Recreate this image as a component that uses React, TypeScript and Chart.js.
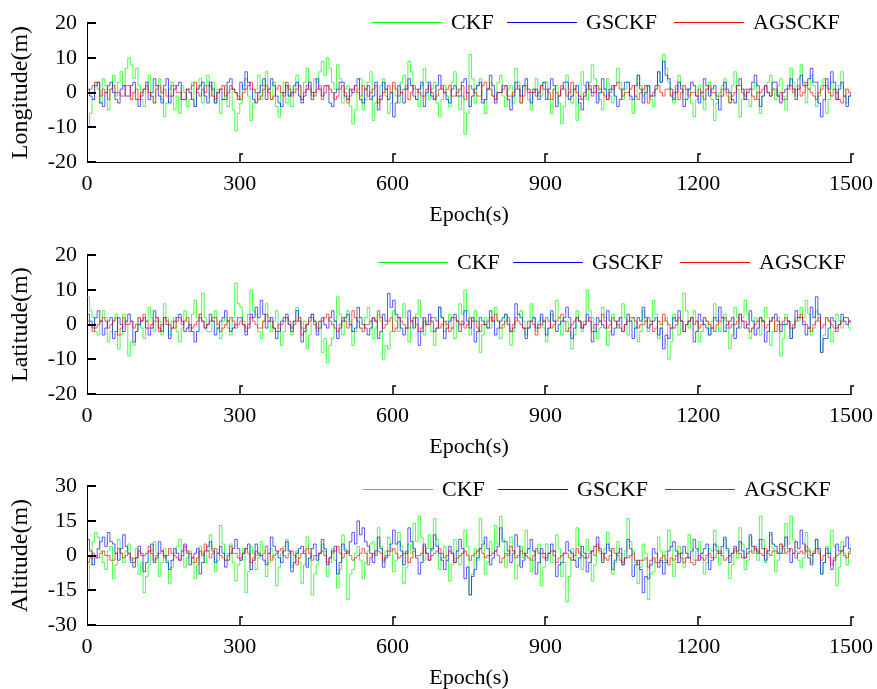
import React, { useEffect, useRef } from "react";
import { Chart, registerables } from "chart.js";
Chart.register(...registerables);

// Epoch spacing of the tabulated samples (s)
const EPOCH_STEP = 5;
const X_TICKS = [0, 300, 600, 900, 1200, 1500];
const SERIES_NAMES = ["CKF", "GSCKF", "AGSCKF"];
const SERIES_COLORS = ["rgba(0,255,0,0.7)", "rgba(0,0,255,0.65)", "rgba(255,0,0,0.65)"];
const LEGEND_COLORS = ["#00ff00", "#0000ff", "#ff0000"];

// ---------- Longitude (m) ----------
const lonCKF = [
  -10, -6, -2, 3, 1, -3, 4, 2, -5, 1, 5, -1, 3, 6, 2, 7, 10, 8, 4, 7,
  2, -2, -4, 1, 5, -1, -3, 2, 4, -2, -7, -3, 1, 3, -5, -1, -6, 2, 0, -4,
  -2, 3, -4, 1, 4, -3, 2, 5, -1, 3, -3, 1, -6, -2, 2, -4, 1, -5, -11, -6,
  -3, 2, 4, -1, -8, -3, 1, 5, -2, 2, 6, 1, -2, 3, -4, -7, 0, 3, -3, 2,
  -4, 1, 5, 2, -2, 3, 7, 2, -1, 4, 3, 6, 9, 5, 10, 7, 3, 1, 8, 4,
  -3, 1, 2, -4, -9, -5, 1, 4, -5, -2, 3, 6, -8, -3, -2, 2, 4, -1, -6, -3,
  2, -1, -3, 3, 5, 1, 9, 6, 1, -2, -4, 2, 7, 3, -2, 1, 3, -3, -7, -2,
  2, -1, -4, 3, 6, 1, -5, -1, -12, -6, 11, 4, -3, 2, 4, -2, -6, 1, 3, -1,
  -2, 3, 5, -1, -4, 1, 2, -3, 7, 3, -3, 2, 1, -2, -5, 1, 4, -1, -1, 3,
  3, -2, -6, 1, 2, -3, -9, -4, 5, 1, -3, 2, -8, -2, 6, 2, -2, 3, 8, 4,
  1, -2, -5, 1, 4, -1, -3, 2, 7, 3, -2, 1, 3, -2, -6, -1, 5, 2, -1, 2,
  2, -2, -4, 1, 6, 3, 11, 7, 3, -1, -3, 1, 5, 2, -2, 1, 1, -3, -7, -2,
  2, -1, -5, 1, 3, -2, -8, -3, 0, 2, 4, -1, -3, 2, 6, 1, -7, -2, 1, -2,
  -4, 1, 3, -2, -6, -1, 2, 3, 5, 1, -2, 2, 4, -1, -5, 1, 7, 3, -1, 4,
  8, 3, -3, 1, 5, 2, -4, -1, 2, 4, -6, -2, 3, 1, -2, 2, 6, 1, -3, -1,
  1,
];
const lonGSCKF = [
  1, -1, -2, 2, 3, -3, -4, 0, 2, 3, 0, -2, -3, 1, 2, -1, -1, 2, 3, -2,
  -4, -1, 1, 3, -2, 0, 4, 2, -1, -3, 2, 4, -3, -1, 1, 2, 3, -2, -2, 1,
  0, -2, -4, 1, 2, 3, -1, -3, 3, 1, -3, 0, 1, -2, -2, 3, 4, 1, 0, -2,
  3, 1, 6, 3, 1, -2, -3, 0, 2, 4, -2, 1, 4, 2, -1, -3, -4, 0, 2, -1,
  0, 2, 3, -1, -3, -1, 1, 3, -2, 0, 4, 1, -1, 2, 2, -3, -4, 0, 1, 3,
  3, -1, -2, 1, 0, 2, 4, -2, -3, 1, 2, -2, -1, 3, -5, -2, 3, 1, -2, 0,
  -7, -3, 2, 0, -3, 1, 4, 2, -1, -2, 1, 3, -4, 0, 3, -1, -2, 2, 5, 1,
  0, -2, -3, 1, 2, -1, -1, 3, 4, 0, -4, -1, 1, 2, 3, -3, -2, 1, 5, 2,
  -3, 0, 0, 2, 2, -2, -5, -1, 3, 1, -1, 2, 4, 1, -3, 0, 1, -2, 2, 3,
  -2, 1, 4, 2, -4, -1, 1, 3, 3, -2, -1, 1, 2, -3, -5, -1, 3, 1, 0, 2,
  -3, 0, 4, 1, -2, 1, 2, -1, -4, -2, 1, 3, 3, -1, -2, 2, 5, 1, -3, 0,
  2, -1, -1, 2, 6, 3, 9, 5, 4, 1, -2, 0, 3, 1, -4, -2, 1, 3, 2, -1,
  -3, 0, 4, 2, -1, 1, 2, -2, -5, -1, 3, 1, 0, -2, -3, 2, 4, 1, -2, 0,
  1, 3, 5, 2, -4, -1, 2, 0, -1, 3, 3, -1, -3, 0, 1, 2, 4, 1, -2, 1,
  5, 2, 2, 4, 7, 3, 3, -3, -7, -2, 4, 1, 6, 3, -2, 1, 3, -1, -4, -1,
  0,
];
const lonAGSCKF = [
  0, 1, 2, 3, 3, -1, 1, 0, -2, 1, 2, 0, 0, -1, -1, 2, 2, -2, 0, 1,
  -2, 0, 1, 2, 0, -1, -3, 1, 2, 0, 1, -1, -1, 2, 2, 0, 0, -2, -2, 1,
  1, 2, 3, 0, -1, 1, 0, 2, 2, -1, -2, 0, 1, 2, -1, 0, 2, 1, 0, -1,
  -2, 0, 1, 2, 3, 1, 0, -2, -1, 1, 2, 0, -2, -1, 1, 2, 0, -1, 3, 1,
  -1, 0, 1, 2, -2, 0, 2, 1, 0, -1, 1, 2, -2, 0, 2, 1, 0, -2, -1, 1,
  2, 0, -3, -1, 1, 2, 0, -1, 2, 1, -1, 0, 1, 2, -3, -1, 0, 1, 2, 0,
  3, 1, -1, 0, 1, 2, -2, 0, 2, 1, 0, -1, -1, 1, 2, 0, -2, -1, 1, 2,
  0, 1, 2, -1, -1, 0, 1, 2, -2, 0, 2, 1, 0, -1, -1, 2, 3, 1, 1, -1,
  -2, 0, 0, 1, 2, -1, -1, 0, 1, 2, -3, -1, 2, 0, 0, 1, -1, 0, 2, 1,
  1, 0, -2, 1, 0, -1, 2, 1, -1, 0, 3, 1, 0, -1, -2, 0, 1, 2, -1, 0,
  2, 1, 0, -1, -2, 0, 1, 2, 3, 1, -1, 0, 0, 1, 2, -1, -2, 0, 1, 2,
  -3, -1, 0, 1, 2, 0, -1, 1, 1, -1, 0, 2, -2, 0, 2, 1, -1, 0, 0, -1,
  1, 0, -2, 1, 2, 0, 0, -1, -1, 1, 1, 0, -3, -1, 0, 2, 2, 0, -1, 1,
  1, -1, -2, 0, 0, 1, 2, 0, -1, 1, 1, -1, 0, -2, -2, 1, 2, 0, 1, 2,
  -1, 0, 3, 1, 0, -1, -2, 0, 1, 2, 2, 0, -1, 1, 0, -2, -3, -1, 1, 0,
  0,
];

// ---------- Latitude (m) ----------
const latCKF = [
  8, 4, 2, -2, -3, 1, 4, 2, -5, -2, 1, 3, -7, -3, 3, 1, -9, -5, -6, -2,
  2, -1, -4, 1, 5, 2, -2, 1, 1, -3, 6, 2, -3, 1, 2, -2, -5, -1, 4, 1,
  -1, 3, 7, 2, 3, 9, 2, -2, -2, 1, 4, -1, -4, 1, 2, -1, -3, 2, 12, 6,
  5, 1, -1, 3, 10, 4, 3, -2, -4, 1, 6, 2, -2, 1, 4, -1, -6, -2, 2, 0,
  -3, 1, 5, 2, -1, 1, -7, -3, 3, 1, -2, 1, -8, -4, -11, -6, -4, 1, 8, 3,
  -3, 1, 4, 1, -6, -2, 2, -1, -1, 2, 5, 1, -4, -1, 3, 1, -10, -6, -7, -2,
  4, 1, -2, 2, 6, 2, -5, -1, 2, 3, 7, 2, -3, 1, 1, -2, -6, -1, 5, 2,
  -2, 1, 3, -1, -4, 1, 6, 3, 10, 4, -3, 1, 4, 1, -8, -3, 2, -1, -1, 2,
  5, 1, -4, -1, 3, 1, -6, -2, 1, 3, 4, 1, -3, -1, 6, 2, -2, 1, 2, -1,
  -5, -1, 3, 1, 7, 2, -3, 1, 1, -2, -7, -3, 4, 1, -2, 1, 10, 4, 2, -1,
  -4, -1, 5, 2, -6, -2, 3, 1, -1, 2, 6, 2, -3, 1, 2, -1, -5, -2, 4, 1,
  -2, 1, 7, 3, -4, -1, 1, 2, -10, -5, 3, 1, -3, 1, 9, 4, -1, 2, 4, 1,
  -5, -2, 2, 1, -3, 1, 6, 2, -2, 1, 3, -1, -7, -3, 5, 2, -1, 2, 7, 3,
  -4, -1, 2, 1, -3, 1, 5, 2, -6, -2, 1, 2, -9, -4, 3, 1, -4, -1, 2, 1,
  5, 2, 7, 3, -3, -1, 4, 1, -8, -3, 2, 1, -5, -2, 3, 1, -1, 2, 2, -1,
  -2,
];
const latGSCKF = [
  3, 1, -1, 2, 4, 1, -3, -1, 1, 2, -4, -2, 2, 0, -2, 1, 3, 1, -5, -2,
  0, 1, 2, -1, -3, -1, 4, 2, -1, -2, 2, 0, -4, -1, 1, 2, 3, 1, -2, -1,
  0, -2, -5, -2, 2, 1, -1, 0, 3, 1, -3, -1, 1, 2, 4, 1, -2, -1, 0, 2,
  2, 0, -3, -1, 3, 2, 5, 2, 7, 3, -1, 1, 2, -1, -4, -2, 1, 2, 3, 0,
  -2, 1, 4, 1, -5, -2, 0, 2, 3, 1, -3, -1, 2, 0, -1, 2, 4, 1, -4, -1,
  1, 2, 3, 0, -2, -1, 5, 2, 0, -1, -3, -1, 2, 1, -4, -2, 3, 1, 9, 5,
  7, 3, 2, -1, -3, -1, 4, 1, -1, 2, -6, -2, 2, 0, 3, 1, -2, -1, 5, 2,
  -4, -1, 1, 2, 3, 1, -2, 0, 4, 1, -1, 2, -5, -2, 2, 1, 0, -1, 4, 1,
  -3, -1, 1, 2, 3, 0, -2, -1, 6, 3, 2, -1, -4, -1, 1, 2, -1, 0, 3, 1,
  -3, -1, 4, 1, -2, 0, 1, 2, 5, 2, -4, -1, 2, 1, -1, 0, 3, 1, -5, -2,
  2, 1, 0, -1, 4, 1, -3, -1, 1, 2, -2, 0, 3, 1, -4, -1, 2, 1, 5, 2,
  -1, 0, 1, 2, -3, -1, -7, -3, -4, -1, 2, 1, 4, 1, -2, 0, 1, 2, -5, -2,
  3, 1, 0, -1, -3, -1, 2, 1, 5, 2, -2, 0, 1, 2, -4, -1, 3, 1, -1, 0,
  4, 1, -3, -1, 2, 1, -5, -2, 1, 2, 3, 1, -2, 0, 0, 1, -4, -1, 4, 2,
  2, 0, -3, -1, 5, 2, 8, 3, -8, -4, -4, -1, 2, 1, -1, 0, 3, 1, 0, 1,
  1,
];
const latAGSCKF = [
  1, 0, -2, -1, 0, 1, 2, 1, -1, 0, 1, 2, -3, -1, 2, 0, 0, 1, -1, 0,
  2, 1, 3, 1, -1, 0, 1, 2, -2, 0, 2, 1, 0, -1, -1, 1, 2, 0, 1, 2,
  -2, -1, 0, 1, 3, 1, -1, 0, 1, 2, 2, 0, -2, -1, 0, 1, 2, 1, -1, 0,
  1, 0, -2, 0, 2, 1, 0, -1, -1, 1, 3, 1, 1, -1, -2, 0, 0, 1, 2, 1,
  -1, 0, 1, 2, -3, -1, 0, 1, 2, 0, -1, 1, 1, 2, 3, 1, 0, -1, -2, 0,
  2, 1, -1, 0, 4, 2, 1, -1, -2, 0, 0, 1, 2, 1, 4, 2, -1, 0, 1, 2,
  -2, -1, 2, 1, 0, -1, -1, 1, 2, 0, -2, -1, 1, 0, 0, 2, 2, 1, -1, 0,
  1, 0, -2, -1, 2, 1, 0, 1, -1, 0, 2, 1, 1, -1, -2, 0, 0, 1, 2, 1,
  3, 1, -1, 0, 1, 2, -2, 0, 2, 1, 0, -1, -1, 1, 1, 0, -3, -1, 0, 1,
  2, 1, -1, 0, 1, 2, 3, 1, -2, -1, 0, 1, 2, 1, -1, 0, 1, 2, -2, 0,
  0, 1, 3, 1, -1, 0, 2, 1, 0, -1, -2, 0, 1, 2, 2, 1, -1, 0, 0, 1,
  2, 1, -2, -1, 1, 0, 3, 1, 0, -1, -1, 0, 2, 1, -2, 0, 1, 2, 0, 1,
  -1, 0, 2, 1, 0, -1, -2, 0, 1, 2, 2, 1, -1, 0, 0, 1, 3, 1, 1, -1,
  -2, -1, 0, 1, 2, 1, -1, 0, 1, 2, -2, 0, 0, 1, 2, 1, -1, 0, 1, 2,
  3, 1, 0, -1, -2, 0, 1, 2, -1, 0, 2, 1, 0, -1, -2, 0, 1, 2, 2, 1,
  0,
];

// ---------- Altitude (m) ----------
const altCKF = [
  -14, -4, 6, 10, 8, 2, -3, -6, 2, 4, -10, -4, 7, 1, -3, 2, 5, -2, -1, 3,
  -8, -3, -16, -9, -4, 2, 6, 1, -9, -3, 3, -2, -12, -5, 1, 4, 7, 2, -5, -1,
  2, -3, -10, -4, 4, 1, -3, 2, 9, 3, -7, -2, 13, 5, -2, 1, 5, -3, -11, -4,
  -2, 3, -16, -7, 4, 1, -6, -1, 6, 2, -9, -3, 3, -1, -13, -5, 1, 4, 7, 2,
  -5, -1, 2, -3, -12, -4, 8, 3, -17, -8, -4, 1, 5, 2, -9, -3, 3, -2, -14, -6,
  9, 3, -19, -8, -6, 1, 4, -2, -10, -3, 2, 5, 6, 1, 12, 4, -3, 2, 8, 3,
  -7, -2, 10, 4, -12, -5, 5, 1, 14, 6, 17, 8, -2, 3, 9, 2, 16, 7, -6, -1,
  4, -2, -11, -4, 7, 2, -4, 1, 11, 4, -17, -8, 3, -2, 16, 6, -8, -3, 6, 1,
  13, 5, 17, 7, -5, 1, 8, 2, -10, -4, 4, -1, 11, 3, -7, -2, 2, 5, -13, -5,
  5, 1, -3, 2, 9, 3, -9, -3, -20, -9, 3, -2, 12, 4, -6, -1, 7, 2, -11, -4,
  4, 1, -2, 3, 10, 3, -8, -3, 6, 1, -4, 2, 16, 6, 2, -3, -12, -5, 5, 1,
  -19, -8, -7, -1, 8, 2, -3, 2, 11, 4, -9, -3, 4, 1, -5, -1, 9, 3, -2, 2,
  6, 1, -8, -3, 3, 2, 11, 4, -4, 1, 7, 2, -10, -4, 2, -1, 12, 5, -6, -2,
  8, 2, 3, -2, 17, 7, -3, 2, 9, 3, -7, -2, 5, 1, 14, 5, 17, 7, 2, -2,
  -5, -1, 10, 3, -3, 2, 7, 2, -8, -3, 4, 1, 11, 4, -13, -5, 6, 1, -4, 2,
  5,
];
const altGSCKF = [
  7, 2, -4, -1, 3, 6, 8, 4, 10, 6, 5, 1, -2, 3, 9, 4, 1, -3, -5, -1,
  4, 1, -7, -3, 2, 5, -3, -1, 6, 2, 0, -3, -6, -2, 3, 1, -2, 2, 5, 1,
  -4, -1, 1, 3, -8, -3, 2, 4, 6, 2, -3, 1, 4, 1, -5, -2, 1, 3, 7, 3,
  -2, 1, 3, 5, -6, -2, 5, 1, 0, -2, -4, 1, 8, 4, 2, -1, -3, 2, 6, 2,
  -7, -3, 1, 3, 4, 1, -5, -1, 3, 5, -2, 1, 7, 3, -4, -1, 2, 4, -8, -3,
  5, 2, 1, 6, 10, 5, 15, 9, 12, 6, 4, 1, -3, 2, 8, 3, -5, -1, 2, 5,
  11, 5, 6, 2, -4, 1, 12, 6, 3, -1, -8, -3, 5, 1, -2, 3, 9, 4, 1, -2,
  -6, -2, 4, 1, -3, 2, 7, 3, -10, -5, -17, -9, -6, -1, 3, 5, 8, 3, -4, -1,
  2, 4, 12, 6, 6, 2, -3, 1, 9, 4, -5, -2, 1, 3, 7, 2, -8, -3, 3, 1,
  -2, 1, 5, 2, -9, -4, -3, 1, 6, 2, 1, -2, -5, -1, 4, 1, -7, -3, 2, 4,
  8, 3, -3, 1, 5, 2, -6, -2, 1, 3, -4, -1, 7, 3, -9, -4, -2, -6, -16, -9,
  -10, -4, 3, 1, -5, -2, -8, -3, 2, 4, 6, 2, -3, 1, 4, 1, -1, 2, 7, 3,
  -2, 1, 3, 5, -6, -2, 5, 2, 1, 4, 8, 3, -3, 1, 4, 2, 6, 2, -1, 3,
  9, 4, 3, 1, 7, 3, -2, 2, 10, 5, 4, 1, 1, 4, 8, 3, -3, 1, 6, 3,
  11, 5, 2, -1, -4, 1, 7, 3, -8, -3, 3, 1, -6, -2, 5, 2, 2, 4, 8, 3,
  3,
];
const altAGSCKF = [
  -3, -1, 1, 0, -1, 1, 2, 0, 0, -2, -2, 1, 3, 1, -1, 0, 1, -1, -3, -1,
  2, 0, 0, 1, 4, 1, -2, 0, 1, 2, -1, 0, 3, 1, 0, -1, -2, 0, 4, 2,
  1, -1, -3, -1, 2, 0, 5, 2, -1, 1, 3, 1, 0, -1, -2, 0, 4, 1, 1, -1,
  -1, 1, 3, 1, -3, -1, 2, 0, 0, 1, 4, 1, -2, 0, 1, 2, 3, 0, -1, 1,
  2, 0, -4, -1, 1, 2, 3, 1, -2, 0, 0, 1, 2, 0, -3, -1, 1, 2, 4, 1,
  -1, 1, 2, 0, -2, -1, 0, 1, 3, 1, -4, -1, 1, 0, 2, 1, -2, 0, 0, 2,
  3, 1, -1, 0, 1, 2, -3, -1, 2, 0, 0, 1, 4, 1, -2, 0, 1, 2, 3, 1,
  -1, 0, 2, 1, -3, -1, 0, 1, 2, 0, -2, 0, 1, 2, 3, 1, -1, 0, 0, 1,
  2, 0, -3, -1, 1, 0, 4, 2, -1, 0, 2, 1, 0, -1, -2, 0, 3, 1, 1, -1,
  -1, 1, 2, 0, -3, -1, 0, 1, 1, -1, -2, 0, 3, 1, 0, -1, -1, 1, 2, 0,
  5, 2, 1, -1, -2, 0, 3, 1, 0, -2, -3, -1, -1, 0, 1, -2, -4, -2, -2, -1,
  -5, -2, -1, -3, -3, -1, 0, -2, -4, -1, -2, 0, 1, -1, -3, -1, -1, -3, -4, -2,
  0, -1, -2, 0, 1, -1, -1, 1, 2, 0, -2, -1, 0, 1, 3, 1, 1, -1, -1, 1,
  2, 1, 4, 2, 1, 0, 3, 1, 0, 2, 2, 1, 5, 3, 1, 2, 3, 1, -1, 1,
  2, 1, 4, 2, 0, 1, 3, 1, -2, 0, 1, -1, -4, -1, 0, 1, 2, 0, -1, 1,
  3,
];

const Y_TITLES = ["Longitude(m)", "Latitude(m)", "Altitude(m)"];
const Y_LIMITS = [20, 20, 30];
const Y_STEPS = [10, 10, 15];
const PANEL_SERIES = [
  [lonCKF, lonGSCKF, lonAGSCKF],
  [latCKF, latGSCKF, latAGSCKF],
  [altCKF, altGSCKF, altAGSCKF],
];

// layout (pixels)
const W = 877;
const H = 231;
const PANEL_TOPS = [0, 232, 463];
const LEGEND_Y = [22, 30, 26];
const LEGEND_X = [372, 378, 363];
const LEGEND_OFFSETS = [0, 135, 302];
const FONT_FAMILY = '"Liberation Serif", "Times New Roman", serif';
const FONT = { family: FONT_FAMILY, size: 22, lineHeight: 1.2 };
const Y_TITLE_FONT = { family: FONT_FAMILY, size: 24, lineHeight: 1.2 };

const tickMarks = {
  id: "tickMarks",
  afterDraw(chart: any) {
    const { ctx, chartArea, scales } = chart;
    ctx.save();
    ctx.strokeStyle = "#000";
    ctx.lineWidth = 2;
    scales.y.ticks.forEach((t: any) => {
      const py = Math.round(scales.y.getPixelForValue(t.value));
      ctx.beginPath();
      ctx.moveTo(chartArea.left, py);
      ctx.lineTo(chartArea.left + 9, py);
      ctx.stroke();
    });
    ctx.lineWidth = 1.5;
    scales.x.ticks.forEach((t: any) => {
      if (t.value === 0) return;
      const px = Math.round(scales.x.getPixelForValue(t.value));
      ctx.beginPath();
      ctx.moveTo(px, chartArea.bottom);
      ctx.lineTo(px, chartArea.bottom - 8);
      ctx.lineTo(px + 3, chartArea.bottom - 8);
      ctx.stroke();
    });
    ctx.restore();
  },
};

function Panel({ index }: { index: number }) {
  const ref = useRef<HTMLCanvasElement | null>(null);
  useEffect(() => {
    const series = PANEL_SERIES[index];
    const lim = Y_LIMITS[index];
    const chart = new Chart(ref.current as HTMLCanvasElement, {
      type: "line",
      data: {
        datasets: series.map((vals, k) => ({
          label: SERIES_NAMES[k],
          data: vals.map((v, i) => ({ x: i * EPOCH_STEP, y: v })),
          borderColor: SERIES_COLORS[k],
          backgroundColor: SERIES_COLORS[k],
          borderWidth: 1,
          pointRadius: 0,
          stepped: true,
          fill: false,
          order: 3 - k,
        })),
      },
      options: {
        responsive: false,
        animation: false,
        events: [],
        layout: { padding: { top: 23, right: 26, left: 0, bottom: 0 } },
        plugins: { legend: { display: false }, tooltip: { enabled: false } },
        scales: {
          x: {
            type: "linear",
            min: 0,
            max: 1500,
            afterBuildTicks: (s: any) => {
              s.ticks = X_TICKS.map((v) => ({ value: v }));
            },
            ticks: {
              font: FONT,
              color: "#000",
              padding: 9,
              maxRotation: 0,
              autoSkip: false,
              callback: (v: any) => String(v),
            },
            grid: { display: false, drawTicks: false },
            border: { display: true, color: "#000", width: 1 },
            title: { display: true, text: "Epoch(s)", font: FONT, color: "#000", padding: { top: 0, bottom: 3 } },
            afterFit: (s: any) => {
              s.height = H - 162;
              s.paddingLeft = 0;
              s.paddingRight = 0;
            },
          },
          y: {
            type: "linear",
            min: -lim,
            max: lim,
            ticks: {
              stepSize: Y_STEPS[index],
              font: FONT,
              color: "#000",
              padding: 10,
              callback: (v: any) => String(v),
            },
            grid: { display: false, drawTicks: false },
            border: { display: true, color: "#000", width: 1 },
            title: { display: true, text: Y_TITLES[index], font: Y_TITLE_FONT, color: "#000", padding: { top: 6, bottom: 0 } },
            afterFit: (s: any) => {
              s.width = 87;
            },
          },
        },
      },
      plugins: [tickMarks],
    });
    return () => chart.destroy();
  }, [index]);

  const top = PANEL_TOPS[index];
  const ly = LEGEND_Y[index];
  const lx = LEGEND_X[index];
  return (
    <div style={{ position: "absolute", left: 0, top, width: W, height: H }}>
      <canvas ref={ref} width={W} height={H} style={{ display: "block", width: W, height: H }} />
      {SERIES_NAMES.map((name, k) => (
        <React.Fragment key={name}>
          <div
            style={{
              position: "absolute",
              left: lx + LEGEND_OFFSETS[k],
              top: ly,
              width: 70,
              height: 1,
              background: LEGEND_COLORS[k],
            }}
          />
          <div
            style={{
              position: "absolute",
              left: lx + LEGEND_OFFSETS[k] + 79,
              top: ly - 13,
              height: 26,
              lineHeight: "26px",
              fontFamily: FONT_FAMILY,
              fontSize: 22,
              color: "#000",
              whiteSpace: "nowrap",
            }}
          >
            {name}
          </div>
        </React.Fragment>
      ))}
    </div>
  );
}

export default function App() {
  return (
    <div style={{ position: "absolute", left: 0, top: 0, width: W, height: 689, overflow: "hidden", background: "#fff" }}>
      <Panel index={0} />
      <Panel index={1} />
      <Panel index={2} />
    </div>
  );
}
